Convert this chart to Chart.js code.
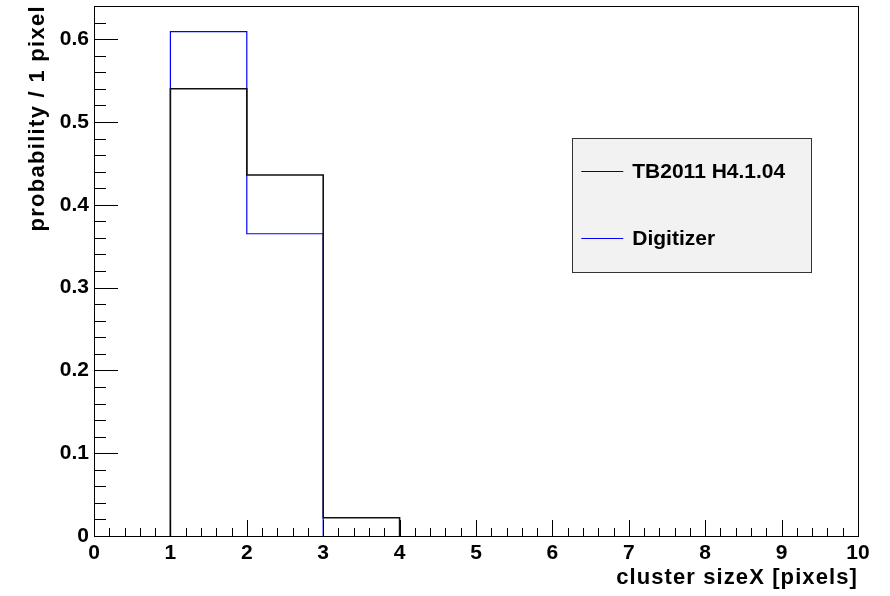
<!DOCTYPE html>
<html>
<head>
<meta charset="utf-8">
<script src="https://cdn.jsdelivr.net/npm/chart.js@4/dist/chart.umd.min.js"></script>
<style>
  html, body { margin: 0; padding: 0; background: #fff; }
  canvas { display: block; }
</style>
</head>
<body>
<canvas id="myChart" width="890" height="596"></canvas>
<script>
// histogram bins (lower edges + last upper edge) and contents
var binEdges = [1, 2, 3, 4];
var tbValues = [0.540, 0.436, 0.022];
var digiValues = [0.609, 0.365, 0];
var seriesNames = ['TB2011 H4.1.04', 'Digitizer'];

var xTickValues = [0, 1, 2, 3, 4, 5, 6, 7, 8, 9, 10];
var yTickValues = [0, 0.1, 0.2, 0.3, 0.4, 0.5, 0.6];
var yTickLabels = ['0', '0.1', '0.2', '0.3', '0.4', '0.5', '0.6'];

var FONT = '"Liberation Sans", Arial, Helvetica, sans-serif';

// turn bin contents into step points: up from 0 at the first edge, down to 0
// after the last non-empty bin
function histPoints(values) {
    var n = values.length;
    while (n > 0 && values[n - 1] === 0) n--;
    var pts = [{ x: binEdges[0], y: 0 }];
    for (var i = 0; i < n; i++) {
        pts.push({ x: binEdges[i], y: values[i] });
    }
    pts.push({ x: binEdges[n], y: 0 });
    return pts;
}

// ROOT style frame, inward ticks, axis titles and legend box
var rootFrame = {
    id: 'rootFrame',
    afterDraw: function(chart) {
        var ctx = chart.ctx;
        var a = chart.chartArea;
        var xs = chart.scales.x, ys = chart.scales.y;
        ctx.save();
        ctx.strokeStyle = '#000';
        ctx.lineWidth = 1;

        // frame
        ctx.strokeRect(Math.round(a.left) + 0.5, Math.round(a.top) + 0.5,
            Math.round(a.right - a.left), Math.round(a.bottom - a.top));

        // x ticks: 5 subdivisions per unit
        ctx.beginPath();
        for (var i = 0; i <= 50; i++) {
            var px = Math.round(xs.getPixelForValue(i / 5)) + 0.5;
            var len = (i % 5 === 0) ? 16 : 8;
            ctx.moveTo(px, a.bottom);
            ctx.lineTo(px, a.bottom - len);
        }
        // y ticks: 5 subdivisions per 0.1
        for (var j = 0; j <= 32; j++) {
            var py = Math.round(ys.getPixelForValue(j * 0.02)) + 0.5;
            var ylen = (j % 5 === 0) ? 24 : 12;
            ctx.moveTo(a.left, py);
            ctx.lineTo(a.left + ylen, py);
        }
        ctx.stroke();

        // axis titles
        ctx.fillStyle = '#000';
        ctx.font = 'bold 22px ' + FONT;
        ctx.letterSpacing = '1.1px';
        ctx.textAlign = 'right';
        ctx.textBaseline = 'alphabetic';
        ctx.fillText('cluster sizeX [pixels]', a.right, 584);

        ctx.save();
        ctx.translate(44, a.top - 1);
        ctx.rotate(-Math.PI / 2);
        ctx.letterSpacing = '1.3px';
        ctx.textAlign = 'right';
        ctx.fillText('probability / 1 pixel', 0, 0);
        ctx.restore();
        ctx.letterSpacing = '0px';

        // legend
        var w = a.right - a.left, h = a.bottom - a.top;
        var bx = a.left + w * 0.626, by = a.top + h * 0.249;
        var bw = w * 0.313, bh = h * 0.253;
        ctx.fillStyle = '#f2f2f2';
        ctx.fillRect(bx, by, bw, bh);
        ctx.strokeStyle = '#333';
        ctx.strokeRect(Math.round(bx) + 0.5, Math.round(by) + 0.5, Math.round(bw), Math.round(bh));

        ctx.font = 'bold 21px ' + FONT;
        ctx.textAlign = 'left';
        ctx.textBaseline = 'middle';
        chart.data.datasets.forEach(function(ds, k) {
            var ly = Math.round(by + bh * (k === 0 ? 0.25 : 0.745)) + 0.5;
            ctx.strokeStyle = ds.borderColor;
            ctx.lineWidth = 1.2;
            ctx.beginPath();
            ctx.moveTo(bx + 9, ly);
            ctx.lineTo(bx + 51, ly);
            ctx.stroke();
            ctx.fillStyle = '#000';
            ctx.fillText(ds.label, bx + 60, ly + 1);
        });
        ctx.restore();
    }
};

var ctx = document.getElementById('myChart').getContext('2d');
var myChart = new Chart(ctx, {
    type: 'line',
    data: {
        datasets: [{
            label: seriesNames[0],
            data: histPoints(tbValues),
            borderColor: '#111',
            borderWidth: 1.6,
            stepped: 'before',
            pointRadius: 0,
            fill: false
        }, {
            label: seriesNames[1],
            data: histPoints(digiValues),
            borderColor: '#0000ff',
            borderWidth: 1.2,
            stepped: 'before',
            pointRadius: 0,
            fill: false
        }]
    },
    options: {
        responsive: false,
        animation: false,
        devicePixelRatio: 1,
        layout: {
            padding: { top: 6, right: 32, left: 0, bottom: 0 }
        },
        plugins: {
            legend: { display: false },
            tooltip: { enabled: false }
        },
        scales: {
            x: {
                type: 'linear',
                min: 0,
                max: 10,
                grid: { display: false, drawTicks: false },
                border: { display: false },
                afterFit: function(scale) {
                    scale.height = 60;
                    scale.paddingLeft = 0;
                    scale.paddingRight = 0;
                },
                afterBuildTicks: function(scale) {
                    scale.ticks = xTickValues.map(function(v) { return { value: v }; });
                },
                ticks: {
                    color: '#000',
                    padding: 5,
                    maxRotation: 0,
                    autoSkip: false,
                    font: { family: FONT, size: 21, weight: 'bold' },
                    callback: function(value) { return String(value); }
                }
            },
            y: {
                min: 0,
                max: 0.64,
                grid: { display: false, drawTicks: false },
                border: { display: false },
                afterFit: function(scale) {
                    scale.width = 94;
                    scale.paddingTop = 0;
                    scale.paddingBottom = 0;
                },
                afterBuildTicks: function(scale) {
                    scale.ticks = yTickValues.map(function(v) { return { value: v }; });
                },
                ticks: {
                    color: '#000',
                    padding: 5,
                    autoSkip: false,
                    font: { family: FONT, size: 21, weight: 'bold' },
                    callback: function(value, index) { return yTickLabels[index]; }
                }
            }
        }
    },
    plugins: [rootFrame]
});
</script>
</body>
</html>
